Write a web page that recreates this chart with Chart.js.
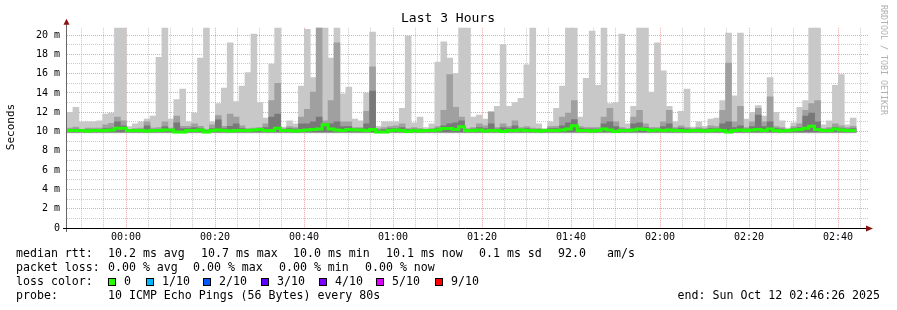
<!DOCTYPE html>
<html>
<head>
<meta charset="utf-8">
<script src="https://cdn.jsdelivr.net/npm/chart.js@4.4.1/dist/chart.umd.min.js"></script>
<style>
html, body { margin: 0; padding: 0; background: #fff; }
</style>
</head>
<body>
<canvas id="smoke" width="897" height="310"></canvas>
<script>
// time axis, minutes from 00:00
const timeTicks = [0, 20, 40, 60, 80, 100, 120, 140, 160];
const timeLabels = ['00:00', '00:20', '00:40', '01:00', '01:20', '01:40', '02:00', '02:20', '02:40'];
const startMin = -13.26;      // left edge of the graph
const spanMin = 180;          // 3 hours
const stepMin = 80 / 60;      // one probe every 80s

// smoke, ms (top of each grey band), one value per 80s step
const maxRtt = [
  12.0, 12.5, 11.0, 11.0, 11.0, 11.1, 11.8, 11.9, 20.8, 20.8,
  10.5, 10.8, 11.0, 11.3, 11.6, 17.7, 20.8, 11.3, 13.3, 14.4,
  11.0, 11.9, 17.6, 20.8, 11.0, 12.9, 14.5, 19.2, 13.1, 14.7,
  16.1, 20.1, 13.0, 11.4, 17.0, 20.8, 10.45, 11.1, 10.8, 14.7,
  20.6, 15.6, 20.8, 20.8, 17.6, 20.8, 13.9, 14.6, 11.3, 11.1,
  14.0, 20.3, 10.55, 11.0, 11.0, 11.0, 12.4, 19.9, 10.9, 11.5,
  10.4, 10.8, 17.2, 19.3, 17.6, 16.0, 20.8, 20.8, 11.5, 11.7,
  11.3, 12.1, 12.6, 19.0, 12.6, 13.0, 13.45, 16.9, 20.8, 10.8,
  10.3, 11.0, 12.4, 14.7, 20.8, 20.8, 11.5, 15.5, 20.4, 14.8,
  20.8, 12.9, 13.0, 20.1, 10.8, 12.6, 20.8, 20.8, 14.1, 19.2,
  16.3, 12.6, 11.0, 12.1, 14.4, 10.45, 11.0, 10.55, 11.3, 11.4,
  13.2, 20.2, 13.7, 20.2, 11.3, 12.0, 12.7, 11.6, 15.6, 12.0,
  11.1, 10.35, 10.9, 12.5, 13.2, 20.8, 20.8, 10.7, 11.1, 14.8,
  15.9, 10.7, 11.4
];
const midRtt = [
  10.35, 10.45, 10.2, 10.35, 10.35, 10.35, 10.7, 10.85, 11.5, 11.1,
  10.2, 10.3, 10.35, 11.0, 10.35, 10.4, 11.0, 10.35, 11.6, 10.55,
  10.55, 10.8, 10.55, 10.2, 10.7, 11.65, 10.55, 11.8, 11.5, 10.6,
  10.3, 10.35, 10.4, 10.8, 13.2, 15.0, 10.3, 10.5, 10.4, 11.5,
  12.3, 14.1, 20.8, 11.1, 13.2, 19.2, 11.0, 11.0, 10.4, 10.4,
  12.1, 16.7, 10.3, 10.4, 10.5, 10.6, 10.8, 10.3, 10.4, 10.3,
  10.2, 10.3, 10.5, 12.2, 15.9, 12.5, 11.5, 10.3, 10.4, 10.8,
  10.6, 12.0, 10.4, 10.8, 10.5, 11.1, 10.4, 10.5, 10.35, 10.3,
  10.2, 10.5, 10.55, 11.5, 11.9, 13.2, 10.5, 10.4, 10.4, 10.4,
  11.5, 12.4, 11.0, 10.4, 10.3, 11.5, 12.2, 10.8, 10.4, 10.4,
  11.0, 12.2, 10.4, 10.6, 10.4, 10.3, 10.4, 10.3, 10.6, 10.5,
  12.2, 17.1, 11.0, 12.6, 10.4, 11.0, 12.4, 11.0, 13.6, 10.5,
  10.4, 10.2, 10.5, 10.8, 12.2, 12.9, 13.2, 10.3, 10.4, 10.8,
  10.6, 10.4, 10.55
];
const darkRtt = [
  10.2, 10.25, 10.15, 10.2, 10.2, 10.2, 10.3, 10.35, 11.0, 10.6,
  10.15, 10.2, 10.2, 10.6, 10.2, 10.2, 10.5, 10.2, 10.9, 10.3,
  10.3, 10.4, 10.3, 10.1, 10.3, 11.2, 10.3, 10.55, 10.8, 10.3,
  10.2, 10.2, 10.25, 10.4, 11.5, 11.8, 10.2, 10.3, 10.25, 10.8,
  10.8, 11.0, 11.5, 10.8, 10.8, 11.0, 10.5, 10.5, 10.25, 10.3,
  10.8, 14.2, 10.15, 10.2, 10.3, 10.3, 10.4, 10.2, 10.25, 10.2,
  10.15, 10.2, 10.3, 10.6, 10.8, 10.9, 11.1, 10.2, 10.25, 10.4,
  10.3, 10.8, 10.25, 10.4, 10.3, 10.6, 10.25, 10.3, 10.2, 10.2,
  10.15, 10.3, 10.3, 10.6, 10.9, 11.25, 10.3, 10.25, 10.25, 10.25,
  10.8, 11.0, 10.5, 10.25, 10.2, 10.8, 10.9, 10.4, 10.25, 10.25,
  10.5, 10.8, 10.25, 10.35, 10.25, 10.2, 10.25, 10.2, 10.3, 10.3,
  10.8, 11.0, 10.4, 10.6, 10.25, 10.5, 11.7, 10.5, 11.0, 10.3,
  10.25, 10.15, 10.3, 10.4, 11.6, 11.9, 11.0, 10.2, 10.25, 10.4,
  10.3, 10.25, 10.3
];
const medianRtt = [
  10.1, 10.1, 10.1, 10.05, 10.1, 10.1, 10.1, 10.15, 10.35, 10.35,
  10.1, 10.1, 10.1, 10.05, 10.1, 10.1, 10.15, 10.15, 9.95, 9.95,
  10.1, 10.1, 10.15, 9.95, 10.1, 10.15, 10.1, 10.05, 10.1, 10.1,
  10.1, 10.15, 10.2, 10.1, 10.1, 10.35, 10.1, 10.1, 10.05, 10.1,
  10.15, 10.2, 10.25, 10.7, 10.25, 10.15, 10.1, 10.2, 10.15, 10.15,
  10.1, 10.2, 9.95, 9.95, 10.1, 10.15, 10.1, 10.0, 10.1, 10.05,
  10.1, 10.1, 10.15, 10.3, 10.3, 10.2, 10.5, 10.1, 10.1, 10.15,
  10.05, 10.1, 10.1, 10.0, 10.1, 10.1, 10.15, 10.1, 10.1, 10.05,
  10.1, 10.1, 10.1, 10.15, 10.25, 10.6, 10.1, 10.1, 10.05, 10.1,
  10.25, 10.15, 10.0, 10.1, 10.1, 10.15, 10.25, 10.2, 10.1, 10.15,
  10.1, 10.15, 10.1, 10.1, 10.05, 10.1, 10.1, 10.05, 10.1, 10.15,
  10.1, 9.95, 10.1, 10.15, 10.1, 10.15, 10.2, 10.1, 10.25, 10.1,
  10.05, 10.1, 10.15, 10.2, 10.35, 10.55, 10.2, 10.1, 10.1, 10.25,
  10.15, 10.1, 10.1
];
// bottom of each grey band
const lowLight = 9.85, lowMid = 9.9, lowDark = 9.95;

const yTicks = [0, 1, 2, 3, 4, 5, 6, 7, 8, 9, 10, 11, 12, 13, 14, 15, 16, 17, 18, 19, 20];
const lossLabels = ['0', '1/10', '2/10', '3/10', '4/10', '5/10', '9/10'];
const lossColors = ['#26ff00', '#00b8ff', '#0059ff', '#5e00ff', '#7e00ff', '#dd00ff', '#ff0000'];

const mono = '"DejaVu Sans Mono", monospace';
const MAJOR = 'rgba(230, 90, 90, 0.55)';
const MINOR = 'rgba(150, 150, 150, 0.5)';

const mid = k => startMin + (k + 0.5) * stepMin;
const band = (tops, low) => tops.map((v, k) => ({ x: mid(k), y: [low, v] }));

const medianPts = [{ x: startMin, y: medianRtt[0] }]
  .concat(medianRtt.map((v, k) => ({ x: mid(k), y: v })))
  .concat([{ x: startMin + medianRtt.length * stepMin, y: medianRtt[medianRtt.length - 1] }]);

const barBase = { type: 'bar', grouped: false, barPercentage: 1, categoryPercentage: 1, borderWidth: 0 };

const decor = {
  id: 'decor',
  afterDraw(chart) {
    const { ctx, chartArea: a } = chart;
    ctx.save();
    // axes
    ctx.lineWidth = 1;
    ctx.strokeStyle = '#666';
    ctx.beginPath(); ctx.moveTo(a.left - 0.5, a.bottom + 4); ctx.lineTo(a.left - 0.5, a.top - 4); ctx.stroke();
    ctx.strokeStyle = '#000';
    ctx.beginPath(); ctx.moveTo(a.left - 4, a.bottom + 0.5); ctx.lineTo(a.right, a.bottom + 0.5); ctx.stroke();
    ctx.fillStyle = '#8b1010';
    ctx.beginPath(); ctx.moveTo(a.left - 3.5, a.top - 3); ctx.lineTo(a.left + 2.5, a.top - 3); ctx.lineTo(a.left - 0.5, a.top - 9); ctx.fill();
    ctx.beginPath(); ctx.moveTo(a.right - 2, a.bottom - 2.5); ctx.lineTo(a.right - 2, a.bottom + 3.5); ctx.lineTo(a.right + 5, a.bottom + 0.5); ctx.fill();

    // title
    ctx.fillStyle = '#000';
    ctx.font = '13px ' + mono;
    ctx.textAlign = 'center'; ctx.textBaseline = 'middle';
    ctx.fillText('Last 3 Hours', 448, 19);

    // y title
    ctx.save();
    ctx.translate(11, 127); ctx.rotate(-Math.PI / 2);
    ctx.font = '11px ' + mono;
    ctx.fillText('Seconds', 0, 0);
    ctx.restore();

    // watermark
    ctx.save();
    ctx.translate(883, 5); ctx.rotate(Math.PI / 2);
    ctx.font = '8.3px ' + mono; ctx.fillStyle = '#b0b0b0';
    ctx.textAlign = 'left';
    ctx.fillText('RRDTOOL / TOBI OETIKER', 0, 0);
    ctx.restore();

    // legend
    ctx.font = '11.6px ' + mono;
    ctx.textAlign = 'left'; ctx.fillStyle = '#000';
    const put = (t, x, y) => ctx.fillText(t, x, y);
    put('median rtt:', 16, 254);
    put('10.2 ms avg', 108, 254); put('10.7 ms max', 201, 254); put('10.0 ms min', 293, 254);
    put('10.1 ms now', 386, 254); put('0.1 ms sd', 479, 254); put('92.0', 558, 254); put('am/s', 607, 254);
    put('packet loss:', 16, 268);
    put('0.00 % avg', 108, 268); put('0.00 % max', 193, 268); put('0.00 % min', 279, 268); put('0.00 % now', 365, 268);
    put('loss color:', 16, 282);
    const boxX = [108, 146, 203, 261, 319, 376, 435];
    lossLabels.forEach((l, i) => {
      ctx.fillStyle = '#000'; ctx.fillRect(boxX[i], 278, 8, 8);
      ctx.fillStyle = lossColors[i]; ctx.fillRect(boxX[i] + 1, 279, 6, 6);
      ctx.fillStyle = '#000'; put(l, boxX[i] + 16, 282);
    });
    put('probe:', 16, 296);
    put('10 ICMP Echo Pings (56 Bytes) every 80s', 108, 296);
    ctx.textAlign = 'right';
    put('end: Sun Oct 12 02:46:26 2025', 880, 296);
    ctx.restore();
  }
};

new Chart(document.getElementById('smoke'), {
  data: {
    datasets: [
      { type: 'line', data: medianPts, borderColor: '#20ff00', borderWidth: 3, pointRadius: 0, stepped: 'middle' },
      { ...barBase, data: band(darkRtt, lowDark), backgroundColor: '#787878' },
      { ...barBase, data: band(midRtt, lowMid), backgroundColor: '#a0a0a0' },
      { ...barBase, data: band(maxRtt, lowLight), backgroundColor: '#c8c8c8' }
    ]
  },
  plugins: [decor],
  options: {
    responsive: false,
    animation: false,
    devicePixelRatio: 1,
    layout: { padding: { left: 0, right: 29, top: 27.8, bottom: 0 } },
    plugins: { legend: { display: false }, tooltip: { enabled: false } },
    scales: {
      x: {
        type: 'linear', min: startMin, max: startMin + spanMin, z: 1,
        offset: false, bounds: 'data',
        afterBuildTicks: s => { s.ticks = []; for (let m = -10; m < 167; m += 5) s.ticks.push({ value: m }); },
        afterFit: s => { s.height = 82; s.paddingLeft = 0; s.paddingRight = 0; },
        grid: {
          offset: false,
          drawTicks: false,
          color: c => (c.tick && c.tick.value % 20 === 0) ? MAJOR : MINOR
        },
        border: { display: false, dash: [1, 1] },
        ticks: {
          autoSkip: false, maxRotation: 0, padding: 3, color: '#000',
          font: { family: mono, size: 10 },
          callback: v => { const i = timeTicks.indexOf(v); return i >= 0 ? timeLabels[i] : ''; }
        }
      },
      y: {
        type: 'linear', min: 0, max: 20.75, z: 1,
        afterBuildTicks: s => { s.ticks = yTicks.map(v => ({ value: v })); },
        afterFit: s => { s.width = 67; s.paddingTop = 0; s.paddingBottom = 0; },
        grid: {
          drawTicks: false,
          color: c => (!c.tick || c.tick.value === 0) ? 'rgba(0,0,0,0)' : (c.tick.value % 2 === 0 ? MAJOR : MINOR)
        },
        border: { display: false, dash: [1, 1] },
        ticks: {
          autoSkip: false, padding: 7, color: '#000',
          font: { family: mono, size: 10 },
          callback: v => v % 2 !== 0 ? '' : (v === 0 ? '0' : v + ' m')
        }
      }
    }
  }
});
</script>
</body>
</html>
